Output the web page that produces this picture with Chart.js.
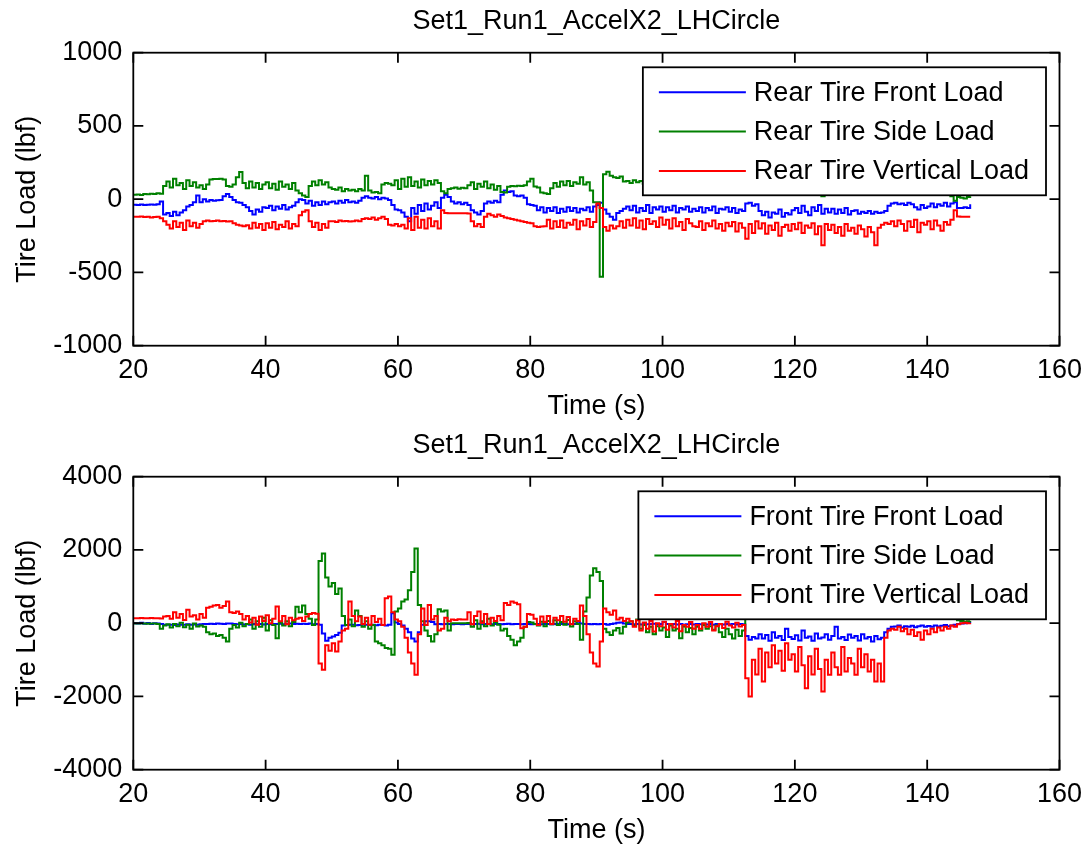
<!DOCTYPE html>
<html>
<head>
<meta charset="utf-8">
<script src="https://cdn.jsdelivr.net/npm/chart.js@4.4.1/dist/chart.umd.min.js"></script>
<style>
  html, body { margin: 0; padding: 0; background: #fff; }
  .panel { position: absolute; left: 0; width: 1084px; height: 426px; }
</style>
</head>
<body>
<div class="panel" style="top:0"><canvas id="rear" width="1084" height="426"></canvas></div>
<div class="panel" style="top:424px"><canvas id="front" width="1084" height="426"></canvas></div>
<script>
// Sample clock of the logged run (s)
const T_START = 20;
const T_STEP = 0.5;

// Rear tire loads (lbf), one value per 0.5 s sample from 20 s
const rearFrontLoad = [
  -38,-40,-36,-40,-38,-36,-38,-35,-15,-105,        // 20
  -95,-115,-85,-110,-90,-75,-50,-40,-20,25,        // 25
  -20,0,-15,-5,-10,-8,-5,20,35,15,                 // 30
  -5,-20,-25,-40,-55,-80,-105,-70,-85,-55,         // 35
  -60,-45,-75,-50,-65,-40,-70,-55,-45,-20,         // 40
  0,-5,-30,-10,-45,-20,-40,-15,-35,-20,            // 45
  -15,-30,-10,-25,-5,-20,-15,-25,-10,10,           // 50
  20,10,5,15,0,10,5,-5,-40,-70,                    // 55
  -75,-90,-120,-150,-60,-100,-40,-80,-30,-70,      // 60
  -45,-20,-60,10,30,15,-15,-30,-20,-35,            // 65
  -25,-40,-75,-90,-105,-80,-30,-15,-25,-10,        // 70
  -20,30,60,50,55,25,20,25,10,-35,                 // 75
  -40,-45,-75,-55,-90,-60,-80,-55,-95,-65,         // 80
  -85,-55,-80,-60,-90,-65,-75,-55,-85,-50,         // 85
  -40,-25,-70,-100,-120,-140,-95,-80,-65,-50,      // 90
  -75,-45,-90,-60,-80,-40,-95,-55,-70,-50,         // 95
  -85,-55,-75,-45,-90,-60,-70,-50,-85,-65,         // 100
  -80,-55,-90,-60,-75,-50,-95,-65,-70,-55,         // 105
  -85,-60,-95,-70,-80,-30,-25,-45,-35,-80,         // 110
  -110,-85,-125,-90,-100,-70,-120,-95,-105,-75,    // 115
  -60,-95,-45,-85,-110,-55,-80,-40,-100,-65,       // 120
  -90,-65,-100,-70,-95,-60,-105,-80,-75,-100,      // 125
  -85,-95,-80,-100,-85,-95,-90,-80,-45,-30,        // 130
  -25,-35,-30,-40,-25,-35,-55,-70,-40,-60,         // 135
  -50,-30,-55,-35,-45,-25,-50,-30,-20,-60,         // 140
  -60,-55,-60,-35                                  // 145
];
const rearSideLoad = [
  30,32,28,35,33,38,36,40,38,90,                   // 20
  120,80,140,95,110,70,130,90,115,80,              // 25
  95,70,100,135,138,138,140,135,90,85,             // 30
  100,150,185,110,75,120,80,110,70,100,            // 35
  115,75,105,65,120,85,100,70,110,60,              // 40
  40,25,15,90,120,95,130,100,115,80,               // 45
  70,65,80,55,70,60,65,55,70,60,                   // 50
  160,60,45,50,40,100,110,105,95,130,              // 55
  70,140,85,150,90,120,80,135,95,125,              // 60
  100,130,110,55,40,70,75,80,72,78,                // 65
  75,95,115,70,105,85,120,75,100,65,               // 70
  90,50,45,85,90,88,92,90,95,120,                  // 75
  140,86,80,45,40,35,75,110,85,120,                // 80
  95,125,90,115,105,150,100,115,60,-20,            // 85
  -20,-529,170,188,160,150,145,155,120,125,        // 90
  110,130,115,125,105,120,110,130,115,100,         // 95
  110,95,125,100,85,120,105,130,90,115,            // 100
  100,125,85,110,130,95,115,80,120,105,            // 105
  90,125,100,115,80,110,130,95,105,120,            // 110
  85,115,100,125,95,110,80,120,100,90,             // 115
  115,95,125,105,110,90,120,100,20,115,            // 120
  95,120,85,110,125,100,90,115,105,120,            // 125
  85,110,125,95,115,100,130,90,105,115,            // 130
  100,120,90,110,125,95,115,85,120,105,            // 135
  110,90,120,100,115,95,105,20,-10,15,             // 140
  10,5,15,20                                       // 145
];
const rearVerticalLoad = [
  -119,-120,-118,-122,-120,-125,-122,-120,-130,-150,   // 20
  -175,-200,-150,-190,-160,-210,-145,-185,-160,-195,   // 25
  -170,-150,-145,-150,-148,-145,-150,-148,-152,-150,   // 30
  -165,-175,-180,-185,-178,-200,-160,-195,-170,-210,   // 35
  -165,-195,-155,-205,-175,-190,-150,-200,-170,-185,   // 40
  -110,-85,-75,-150,-190,-160,-210,-170,-195,-150,     // 45
  -150,-155,-145,-150,-148,-152,-150,-145,-150,-135,   // 50
  -130,-135,-125,-140,-130,-120,-135,-175,-180,-170,   // 55
  -185,-175,-200,-130,-210,-120,-195,-140,-200,-130,   // 60
  -185,-150,-200,-75,-95,-96,-96,-96,-96,-96,          // 65
  -96,-98,-150,-185,-170,-190,-120,-100,-110,-120,     // 70
  -105,-115,-125,-130,-135,-140,-145,-150,-155,-160,   // 75
  -165,-185,-190,-187,-185,-140,-200,-150,-190,-145,   // 80
  -195,-160,-175,-140,-205,-150,-180,-135,-190,-155,   // 85
  -30,-60,-190,-215,-180,-200,-185,-150,-195,-140,     // 90
  -180,-130,-195,-145,-205,-135,-170,-150,-190,-125,   // 95
  -175,-140,-200,-130,-185,-155,-210,-135,-165,-185,   // 100
  -190,-150,-210,-165,-185,-145,-200,-170,-215,-160,   // 105
  -185,-155,-220,-165,-195,-270,-170,-230,-150,-200,   // 110
  -165,-235,-180,-210,-160,-250,-190,-175,-215,-170,   // 115
  -205,-160,-230,-180,-195,-165,-240,-185,-315,-170,   // 120
  -210,-175,-230,-190,-250,-170,-215,-195,-235,-180,   // 125
  -205,-255,-190,-225,-315,-195,-175,-160,-170,-150,   // 130
  -185,-145,-170,-215,-150,-190,-140,-225,-160,-175,   // 135
  -150,-205,-145,-180,-215,-155,-175,-140,-75,-118,    // 140
  -119,-119,-120,-120                                  // 145
];

// Front tire loads (lbf), same sample clock
const frontFrontLoad = [
  0,-10,10,-15,5,-20,0,-10,-20,-40,                // 20
  -45,-40,-50,-35,-45,-40,-30,-45,-35,-40,         // 25
  -30,-20,-25,-15,-20,-10,-15,-20,-5,-10,          // 30
  -20,-30,-25,-35,-30,-40,-25,-30,-20,-35,         // 35
  -25,-30,-20,-25,-15,-30,-20,-10,-25,-15,         // 40
  -20,-15,-25,-10,-30,-20,-40,-280,-480,-400,      // 45
  -360,-320,-260,-60,-50,-40,-45,-55,-50,-40,      // 50
  -45,-50,-40,-55,-45,-50,-60,-40,270,20,          // 55
  -20,-60,-150,-250,-420,-500,-250,-45,50,55,      // 60
  30,-30,-20,-30,-25,-20,-30,-25,-20,-30,          // 65
  -25,-20,-30,-25,-15,-30,-20,-25,-30,-20,         // 70
  -25,-30,-20,-15,-30,-25,-20,-30,-25,-20,         // 75
  -30,-25,-20,-30,-25,-20,-30,-25,-15,-20,         // 80
  -25,-30,-20,-25,40,-10,-20,-25,-30,-20,          // 85
  -30,-25,-20,-40,-25,-10,10,20,-10,-25,           // 90
  -20,-30,-25,-35,-20,-30,-25,-15,-30,-20,         // 95
  30,-25,-40,-20,-35,-25,-40,-30,-20,-35,          // 100
  -25,-30,-20,-35,-25,-40,-20,-30,-35,-25,         // 105
  -30,-20,-35,-25,-30,-350,-450,-380,-420,-300,    // 110
  -420,-320,-480,-250,-400,-350,-460,-150,-380,-430, // 115
  -330,-470,-200,-400,-360,-480,-280,-420,-390,-300, // 120
  -450,-350,-100,-420,-380,-460,-310,-400,-350,-470, // 125
  -300,-420,-380,-500,-350,-440,-400,-250,-150,-100, // 130
  -90,-60,-120,-80,-100,-70,-110,-85,-60,-95,      // 135
  -75,-100,-60,-90,-70,-50,-80,-60,-40,-20,        // 140
  -10,0,10,5                                       // 145
];
const frontSideLoad = [
  -10,-10,-5,-10,-15,-5,-10,-20,-150,-60,          // 20
  -30,-120,-20,-80,10,-110,-40,-150,-10,-90,       // 25
  -60,-100,-250,-300,-280,-350,-320,-400,-500,-150, // 30
  -50,-120,10,-80,-20,100,-150,50,-100,150,        // 35
  -200,80,-50,-410,20,-60,50,-80,30,450,           // 40
  300,480,250,120,-50,100,1700,1900,1250,1000,     // 45
  1100,800,950,200,-50,100,-80,350,200,-100,       // 50
  50,-150,-50,-500,-550,-600,-680,-700,-864,320,   // 55
  400,590,650,900,1400,2040,500,50,-200,-350,      // 60
  -500,-300,380,320,350,-200,0,0,0,0,              // 65
  0,5,-100,80,-150,50,-80,120,-60,30,              // 70
  -40,-200,-150,-350,-450,-600,-500,-400,-100,30,  // 75
  20,-20,-60,40,-80,60,-30,80,-50,30,              // 80
  -40,90,-90,50,-20,-455,320,700,1300,1500,        // 85
  1400,1150,-150,-250,-320,-200,-130,-280,-100,20, // 90
  50,-60,100,-150,-50,-250,-100,-300,-80,-200,     // 95
  -120,-380,-60,-200,-150,-410,-90,-250,-130,-300, // 100
  -100,-200,-50,-150,-80,-180,-60,-250,-380,-150,  // 105
  -300,-420,-180,-350,-200,500,450,600,520,480,    // 110
  550,470,620,500,450,580,530,490,610,560,         // 115
  480,540,600,510,470,590,520,560,500,530,         // 120
  570,490,540,610,480,520,560,500,590,530,         // 125
  510,570,490,550,600,520,480,540,560,500,         // 130
  530,480,560,510,590,500,540,470,520,560,         // 135
  500,540,480,520,560,490,530,510,500,80,          // 140
  60,40,50,60                                      // 145
];
const frontVerticalLoad = [
  137,137,140,135,137,140,137,135,130,180,         // 20
  200,120,300,150,250,90,365,180,220,100,          // 25
  250,150,420,450,480,500,420,470,590,300,         // 30
  280,320,250,100,200,20,150,-40,180,60,           // 35
  220,0,120,455,50,200,-30,150,80,120,             // 40
  150,60,180,250,280,260,-1100,-1273,-600,-750,    // 45
  -550,-770,-500,-200,-150,590,200,50,180,-20,     // 50
  150,-40,200,30,120,-50,680,730,300,100,          // 55
  50,-100,-400,-800,-1100,-1410,-300,400,-50,500,  // 60
  100,200,-200,-150,150,50,100,90,110,100,         // 65
  100,300,-30,200,320,10,250,-20,150,60,           // 70
  200,80,550,500,590,560,520,-137,-100,250,        // 75
  230,120,-50,180,30,200,-20,150,80,200,           // 80
  40,170,-30,120,60,480,200,-300,-800,-1100,       // 85
  -1180,-500,400,300,230,350,100,150,60,120,       // 90
  50,-100,80,-200,20,-150,60,-228,0,-80,           // 95
  40,-180,-20,-120,60,-220,-50,-100,30,-150,       // 100
  -50,-150,0,-100,30,-200,-80,-20,-130,40,         // 105
  -60,-120,10,-90,-50,-1500,-2000,-1000,-1400,-700, // 110
  -1590,-800,-1200,-600,-1100,-750,-1300,-550,-1000,-850, // 115
  -1320,-650,-1150,-1773,-900,-1400,-700,-1250,-1865,-1000, // 120
  -1410,-800,-1200,-1410,-650,-1320,-950,-1100,-1410,-700, // 125
  -1200,-850,-1320,-1000,-1590,-1100,-1590,-400,-200,-150, // 130
  -180,-100,-220,-150,-300,-180,-350,-250,-455,-200, // 135
  -300,-150,-250,-120,-200,-100,-150,-60,-100,-30, // 140
  0,10,0,5                                         // 145
];

// Axis ticks and text
const timeTicks = [20, 40, 60, 80, 100, 120, 140, 160];
const rearLoadTicks = [-1000, -500, 0, 500, 1000];
const frontLoadTicks = [-4000, -2000, 0, 2000, 4000];
const runTitle = 'Set1_Run1_AccelX2_LHCircle';
const timeLabel = 'Time (s)';
const loadLabel = 'Tire Load (lbf)';
const rearNames = ['Rear Tire Front Load', 'Rear Tire Side Load', 'Rear Tire Vertical Load'];
const frontNames = ['Front Tire Front Load', 'Front Tire Side Load', 'Front Tire Vertical Load'];

// Styling / layout
const FONT_FAMILY = "'Liberation Sans', Arial, Helvetica, sans-serif";
const FONT = { family: FONT_FAMILY, size: 27, lineHeight: 1.2, weight: 'normal' };
const LINE_COLORS = ['#0000ff', '#008000', '#ff0000'];
const LINE_WIDTH = 2;
const FRAME_WIDTH = 1.8;
const CANVAS_W = 1084;
const CANVAS_H = 426;
const AREA = { left: 133.3, top: 52.7, right: 1059.5, bottom: 345.7 };
const TICK_LEN = 10;
const TITLE_TOP = 5.5;
const LEGEND = { rightInset: 13.5, topInset: 14.6, padL: 16, sample: 87, gap: 8, padR: 17,
                 firstRow: 25, rowH: 39.3, height: 128 };

function toPoints(values) {
  return values.map((v, i) => ({ x: T_START + i * T_STEP, y: v }));
}

// Draws the boxed axes with inward tick marks and the boxed legend in the upper right
const axesBox = {
  id: 'axesBox',
  afterDatasetsDraw(chart) {
    const { ctx, chartArea: a } = chart;
    const xs = chart.scales.x, ys = chart.scales.y;
    ctx.save();
    ctx.strokeStyle = '#000';
    ctx.lineWidth = FRAME_WIDTH;
    ctx.beginPath();
    xs.ticks.forEach(t => {
      const p = xs.getPixelForValue(t.value);
      ctx.moveTo(p, a.bottom); ctx.lineTo(p, a.bottom - TICK_LEN);
      ctx.moveTo(p, a.top); ctx.lineTo(p, a.top + TICK_LEN);
    });
    ys.ticks.forEach(t => {
      const p = ys.getPixelForValue(t.value);
      ctx.moveTo(a.left, p); ctx.lineTo(a.left + TICK_LEN, p);
      ctx.moveTo(a.right, p); ctx.lineTo(a.right - TICK_LEN, p);
    });
    ctx.stroke();
    ctx.strokeRect(a.left, a.top, a.right - a.left, a.bottom - a.top);

    // legend
    const ds = chart.data.datasets;
    ctx.font = `${FONT.size}px ${FONT_FAMILY}`;
    const textW = Math.max(...ds.map(d => ctx.measureText(d.label).width));
    const right = a.right - LEGEND.rightInset;
    const left = right - (LEGEND.padL + LEGEND.sample + LEGEND.gap + textW + LEGEND.padR);
    const top = a.top + LEGEND.topInset;
    ctx.fillStyle = '#fff';
    ctx.fillRect(left, top, right - left, LEGEND.height);
    ctx.strokeStyle = '#000';
    ctx.strokeRect(left, top, right - left, LEGEND.height);
    ctx.textAlign = 'left';
    ctx.textBaseline = 'middle';
    ds.forEach((d, i) => {
      const y = top + LEGEND.firstRow + i * LEGEND.rowH;
      ctx.strokeStyle = d.borderColor;
      ctx.lineWidth = LINE_WIDTH;
      ctx.beginPath();
      ctx.moveTo(left + LEGEND.padL, y);
      ctx.lineTo(left + LEGEND.padL + LEGEND.sample, y);
      ctx.stroke();
      ctx.fillStyle = '#000';
      ctx.fillText(d.label, left + LEGEND.padL + LEGEND.sample + LEGEND.gap, y + 1);
    });
    ctx.restore();
  }
};

function buildChart(canvasId, names, series, loadTicks) {
  return new Chart(document.getElementById(canvasId), {
    type: 'line',
    data: {
      datasets: series.map((vals, i) => ({
        label: names[i],
        data: toPoints(vals),
        borderColor: LINE_COLORS[i],
        backgroundColor: LINE_COLORS[i],
        borderWidth: LINE_WIDTH,
        pointRadius: 0,
        stepped: true,
        fill: false,
        order: series.length - i
      }))
    },
    options: {
      responsive: false,
      animation: false,
      devicePixelRatio: 1,
      layout: { padding: { left: 0, top: 0, right: CANVAS_W - AREA.right, bottom: 0 } },
      plugins: {
        legend: { display: false },
        tooltip: { enabled: false },
        title: {
          display: true, text: runTitle, fullSize: false, color: '#000',
          font: FONT, padding: { top: TITLE_TOP, bottom: AREA.top - TITLE_TOP - FONT.size * FONT.lineHeight }
        }
      },
      scales: {
        x: {
          type: 'linear',
          min: timeTicks[0],
          max: timeTicks[timeTicks.length - 1],
          afterBuildTicks: s => { s.ticks = timeTicks.map(v => ({ value: v })); },
          afterFit: s => {
            s.height = CANVAS_H - AREA.bottom;
            s.paddingLeft = 0;
            s.paddingRight = 0;
          },
          grid: { display: false, drawTicks: false },
          border: { display: false },
          ticks: { color: '#000', font: FONT, padding: 9, maxRotation: 0, autoSkip: false,
                   callback: v => String(v) },
          title: { display: true, text: timeLabel, color: '#000', font: FONT, padding: { top: 0, bottom: 3 } }
        },
        y: {
          type: 'linear',
          min: loadTicks[0],
          max: loadTicks[loadTicks.length - 1],
          afterBuildTicks: s => { s.ticks = loadTicks.map(v => ({ value: v })); },
          afterFit: s => {
            s.width = AREA.left;
            s.paddingTop = 0;
            s.paddingBottom = 0;
          },
          grid: { display: false, drawTicks: false },
          border: { display: false },
          ticks: { color: '#000', font: FONT, padding: 11, autoSkip: false,
                   callback: v => String(v) },
          title: { display: true, text: loadLabel, color: '#000', font: FONT, padding: { top: 11.5, bottom: 0 } }
        }
      }
    },
    plugins: [axesBox]
  });
}

buildChart('rear', rearNames, [rearFrontLoad, rearSideLoad, rearVerticalLoad], rearLoadTicks);
buildChart('front', frontNames, [frontFrontLoad, frontSideLoad, frontVerticalLoad], frontLoadTicks);
</script>
</body>
</html>
